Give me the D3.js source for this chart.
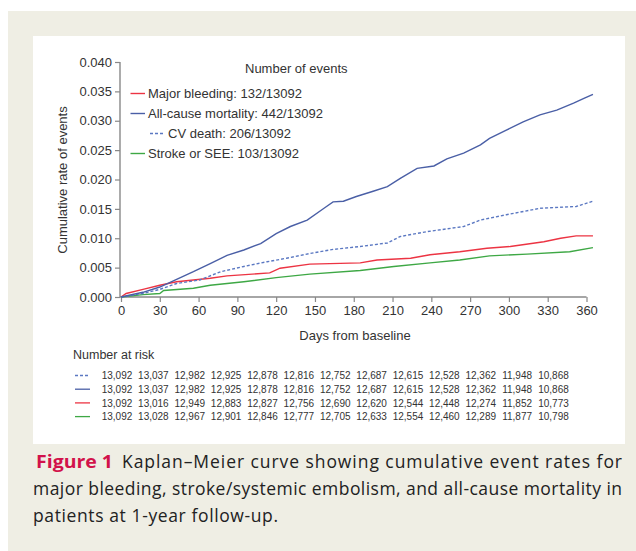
<!DOCTYPE html>
<html lang="en">
<head>
    <meta charset="UTF-8">
    <title>Kaplan-Meier cumulative event rates</title>
    <style>
        body, html {
            margin: 0;
            padding: 0;
            width: 636px;
            height: 551px;
            overflow: hidden;
            background: #fff;
        }
        svg text {
            font-family: 'Liberation Sans', Arial, sans-serif;
            fill: #333;
        }
        .caption text {
            font-family: 'Open Sans', 'Lato', sans-serif;
            fill: #222;
        }
    </style>
</head>
<body>
<div id="chart"></div>
<script src="https://d3js.org/d3.v7.min.js"></script>
<script>
    // ---- data ----
    const mortalityDays = [0, 17, 30, 43, 56, 69, 82, 95, 108, 120, 131, 144, 157, 164, 172, 182, 195, 206, 216, 229, 242, 252, 265, 278, 285, 298, 311, 324, 337, 350, 358, 365];
    const mortalityRate = [0, 0.0008, 0.0017, 0.0030, 0.0043, 0.0057, 0.0071, 0.0080, 0.0091, 0.0108, 0.0120, 0.0131, 0.0151, 0.0162, 0.0163, 0.0171, 0.0180, 0.0188, 0.0202, 0.0219, 0.0223, 0.0235, 0.0245, 0.0259, 0.0270, 0.0284, 0.0298, 0.0310, 0.0318, 0.0330, 0.0338, 0.0345];

    const cvDays = [0, 17, 30, 43, 61, 77, 95, 113, 128, 146, 164, 185, 206, 216, 236, 252, 265, 278, 298, 324, 352, 365];
    const cvRate = [0, 0.0006, 0.0013, 0.0023, 0.0029, 0.0043, 0.0052, 0.0060, 0.0066, 0.0074, 0.0081, 0.0086, 0.0092, 0.0103, 0.0111, 0.0116, 0.0120, 0.0131, 0.0140, 0.0151, 0.0154, 0.0163];

    const bleedDays = [0, 4, 17, 30, 43, 56, 69, 82, 115, 123, 146, 185, 198, 224, 239, 262, 283, 301, 327, 340, 352, 365];
    const bleedRate = [0, 0.0006, 0.0013, 0.0020, 0.0026, 0.0029, 0.0032, 0.0036, 0.0041, 0.0049, 0.0056, 0.0058, 0.0063, 0.0066, 0.0072, 0.0077, 0.0083, 0.0086, 0.0094, 0.0100, 0.0104, 0.0104];

    const strokeDays = [0, 17, 30, 33, 56, 69, 95, 120, 146, 185, 211, 239, 262, 285, 314, 347, 365];
    const strokeRate = [0, 0.0004, 0.0006, 0.0011, 0.0015, 0.0020, 0.0026, 0.0033, 0.0039, 0.0045, 0.0052, 0.0058, 0.0063, 0.0070, 0.0073, 0.0077, 0.0084];

    const legendLabels = ["Major bleeding: 132/13092", "All-cause mortality: 442/13092", "CV death: 206/13092", "Stroke or SEE: 103/13092"];

    const xTicks = d3.range(0, 361, 30);
    const yTicks = [0, 0.005, 0.010, 0.015, 0.020, 0.025, 0.030, 0.035, 0.040];

    const riskCV        = ["13,092", "13,037", "12,982", "12,925", "12,878", "12,816", "12,752", "12,687", "12,615", "12,528", "12,362", "11,948", "10,868"];
    const riskMortality = ["13,092", "13,037", "12,982", "12,925", "12,878", "12,816", "12,752", "12,687", "12,615", "12,528", "12,362", "11,948", "10,868"];
    const riskBleed     = ["13,092", "13,016", "12,949", "12,883", "12,827", "12,756", "12,690", "12,620", "12,544", "12,448", "12,274", "11,852", "10,773"];
    const riskStroke    = ["13,092", "13,028", "12,967", "12,901", "12,846", "12,777", "12,705", "12,633", "12,554", "12,460", "12,289", "11,877", "10,798"];

    const captionLines = [
        "Kaplan\u2013Meier curve showing cumulative event rates for",
        "major bleeding, stroke/systemic embolism, and all-cause mortality in",
        "patients at 1-year follow-up."
    ];

    // ---- styles ----
    const colRed = "#ec3443", colBlue = "#4a5fa6", colBlueLight = "#5b78c2", colGreen = "#3ea845";

    const svg = d3.select("#chart").append("svg")
        .attr("width", 636).attr("height", 551);

    // background frame
    svg.append("rect").attr("x", 8).attr("y", 11).attr("width", 628).attr("height", 540).attr("fill", "#efeee4");
    svg.append("rect").attr("x", 33).attr("y", 36).attr("width", 592).attr("height", 408).attr("fill", "#fff");

    const x = d3.scaleLinear().domain([0, 360]).range([121, 586.5]);
    const y = d3.scaleLinear().domain([0, 0.04]).range([297, 62]);

    // axes
    const xAxis = svg.append("g").attr("transform", "translate(0,297)")
        .call(d3.axisBottom(x).tickValues(xTicks).tickSize(5).tickPadding(4).tickFormat(d3.format("d")));
    const yAxis = svg.append("g").attr("transform", "translate(120,0)")
        .call(d3.axisLeft(y).tickValues(yTicks).tickSize(5).tickPadding(3).tickFormat(d3.format(".3f")));
    [xAxis, yAxis].forEach(g => {
        g.select(".domain").attr("stroke", "#888").attr("stroke-width", 1.4);
        g.selectAll(".tick line").attr("stroke", "#888").attr("stroke-width", 1.2);
        g.selectAll(".tick text").attr("fill", "#333").style("font-size", "13px");
    });
    xAxis.select(".domain").attr("d", "M120,0H586.5");
    yAxis.select(".domain").attr("d", "M0,62V297");

    svg.append("text").attr("x", 355).attr("y", 340).attr("text-anchor", "middle")
        .style("font-size", "13px").text("Days from baseline");
    svg.append("text").attr("transform", "translate(67,180) rotate(-90)").attr("text-anchor", "middle")
        .style("font-size", "13px").text("Cumulative rate of events");

    // curves
    const series = [
        {days: strokeDays, rate: strokeRate, color: colGreen, dash: null},
        {days: bleedDays, rate: bleedRate, color: colRed, dash: null},
        {days: cvDays, rate: cvRate, color: colBlueLight, dash: "3,2"},
        {days: mortalityDays, rate: mortalityRate, color: colBlue, dash: null}
    ];
    const line = d3.line().x(d => x(d[0])).y(d => y(d[1]));
    series.forEach(s => {
        svg.append("path")
            .datum(d3.zip(s.days, s.rate))
            .attr("d", line)
            .attr("fill", "none")
            .attr("stroke", s.color)
            .attr("stroke-width", 1.4)
            .attr("stroke-dasharray", s.dash);
    });

    // legend
    svg.append("text").attr("x", 245).attr("y", 72.5).style("font-size", "13px").text("Number of events");
    const legendStyle = [
        {color: colRed, dash: null, x0: 130.5, x1: 145},
        {color: colBlue, dash: null, x0: 130.5, x1: 145},
        {color: colBlueLight, dash: "3,2", x0: 150, x1: 165},
        {color: colGreen, dash: null, x0: 130.5, x1: 145}
    ];
    legendLabels.forEach((label, i) => {
        const ly = 93.5 + i * 20;
        const st = legendStyle[i];
        svg.append("line").attr("x1", st.x0).attr("x2", st.x1).attr("y1", ly).attr("y2", ly)
            .attr("stroke", st.color).attr("stroke-width", 1.4).attr("stroke-dasharray", st.dash);
        svg.append("text").attr("x", st.x1 + 3).attr("y", ly + 4.6).style("font-size", "13px").text(label);
    });

    // number at risk table
    svg.append("text").attr("x", 73).attr("y", 359).style("font-size", "12.5px").text("Number at risk");
    const col = d3.scalePoint().domain(d3.range(13)).range([117, 553.5]);
    const riskRows = [
        {vals: riskCV, color: colBlueLight, dash: "3,2"},
        {vals: riskMortality, color: colBlue, dash: null},
        {vals: riskBleed, color: colRed, dash: null},
        {vals: riskStroke, color: colGreen, dash: null}
    ];
    riskRows.forEach((r, i) => {
        const ry = 375.5 + i * 13.7;
        svg.append("line").attr("x1", 75).attr("x2", 90).attr("y1", ry).attr("y2", ry)
            .attr("stroke", r.color).attr("stroke-width", 1.3).attr("stroke-dasharray", r.dash);
        svg.append("g").selectAll("text").data(r.vals).join("text")
            .attr("x", (d, j) => col(j)).attr("y", ry + 3.6)
            .attr("text-anchor", "middle").style("font-size", "10px").text(d => d);
    });

    // caption; widths stretched to match the original's typeface
    const cap = svg.append("g").attr("class", "caption");
    const capSize = 17.5;
    cap.append("text").attr("x", 36).attr("y", 468).style("font-size", capSize + "px")
        .style("font-weight", "bold").style("fill", "#d2124b")
        .attr("textLength", 77).attr("lengthAdjust", "spacingAndGlyphs").text("Figure 1");
    cap.append("text").attr("x", 122).attr("y", 468).style("font-size", capSize + "px")
        .attr("textLength", 500).text(captionLines[0]);
    cap.append("text").attr("x", 33).attr("y", 495).style("font-size", capSize + "px")
        .attr("textLength", 589).text(captionLines[1]);
    cap.append("text").attr("x", 33).attr("y", 522).style("font-size", capSize + "px")
        .attr("textLength", 245).text(captionLines[2]);
</script>
</body>
</html>
